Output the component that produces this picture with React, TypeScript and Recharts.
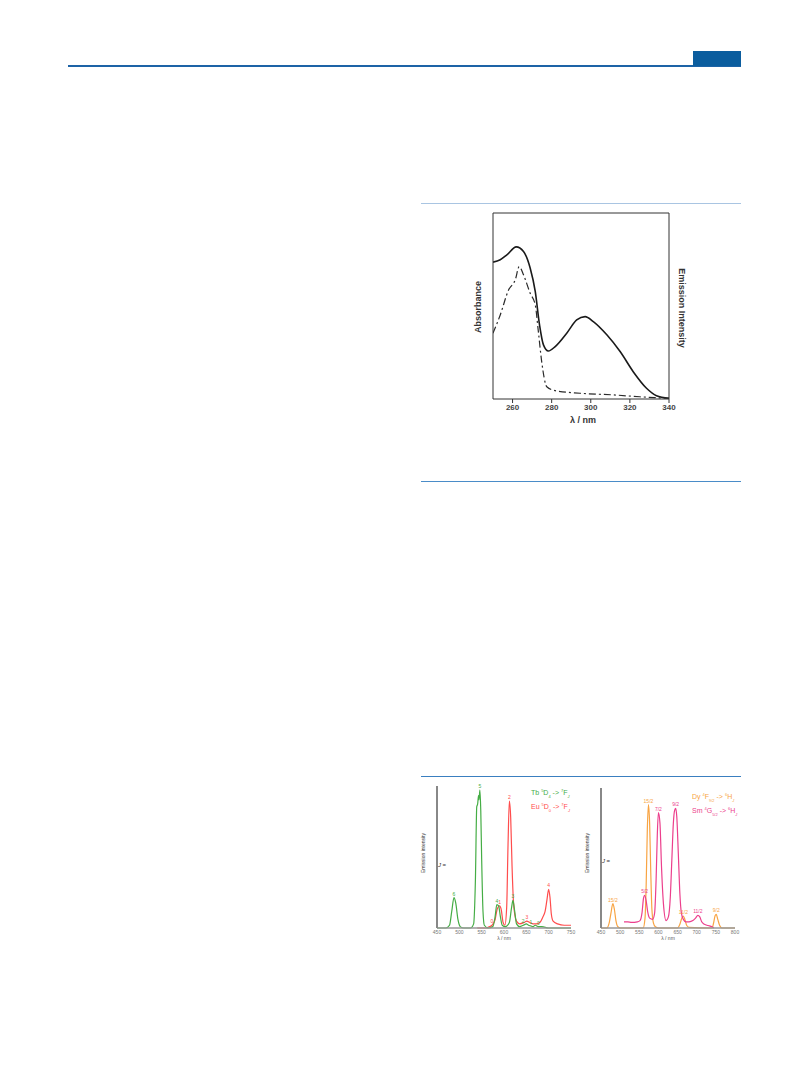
import React from "react";
import { LineChart, Line, XAxis, YAxis, ReferenceLine, LabelList } from "recharts";

// ─── Absorption / emission (top figure) ──────────────────────────────────────
const solidNm = [250, 253.7, 257.1, 261.9, 265.6, 269, 271.6, 273.8, 275.8, 278.3, 281.8, 287.7, 292.8, 297.1, 301.3, 308.2, 315, 321.7, 328.5, 333.6, 340];
const solidVal = [0.736, 0.749, 0.775, 0.818, 0.793, 0.704, 0.578, 0.398, 0.291, 0.258, 0.282, 0.354, 0.425, 0.443, 0.416, 0.345, 0.255, 0.147, 0.058, 0.018, 0.004];
const dashNm = [250, 253.7, 258, 261.4, 263.4, 265.6, 269, 271.6, 273.2, 274.9, 277.5, 281.8, 294.5, 311.5, 325, 335, 340];
const dashVal = [0.354, 0.452, 0.587, 0.641, 0.712, 0.668, 0.569, 0.506, 0.362, 0.201, 0.066, 0.045, 0.031, 0.022, 0.012, 0.006, 0.003];
const topTicks = [260, 280, 300, 320, 340];

// ─── Tb / Eu emission (bottom left) ──────────────────────────────────────────
const tbNm = [450, 470, 478, 483, 488, 492, 497, 502, 510, 525, 532, 536, 539, 541, 543, 544, 546, 548, 550, 553, 556, 565, 575, 580, 584, 588, 592, 596, 603, 612, 617, 620, 624, 628, 635, 643, 650, 655, 660, 665, 670, 677, 685, 700, 750];
const tbVal = [0, 0, 0.02, 0.12, 0.22, 0.18, 0.06, 0.01, 0, 0, 0.03, 0.35, 0.88, 0.9, 0.96, 0.93, 1.0, 0.85, 0.5, 0.12, 0.02, 0, 0.01, 0.08, 0.17, 0.16, 0.08, 0.02, 0.01, 0.04, 0.15, 0.2, 0.12, 0.03, 0.01, 0.02, 0.03, 0.02, 0.015, 0.01, 0.02, 0.01, 0.01, 0, 0];
const tbTags: Record<number, string> = { 488: "6", 546: "5", 584: "4", 620: "3", 643: "2", 660: "1", 677: "0" };
const euNm = [540, 560, 568, 573, 580, 585, 590, 594, 598, 602, 606, 609, 612, 615, 618, 621, 624, 628, 635, 645, 651, 658, 665, 672, 680, 687, 692, 696, 700, 703, 706, 710, 720, 735, 750];
const euVal = [0, 0, 0.01, 0.02, 0.06, 0.14, 0.16, 0.13, 0.04, 0.02, 0.15, 0.6, 0.92, 0.8, 0.45, 0.2, 0.1, 0.05, 0.03, 0.04, 0.05, 0.04, 0.03, 0.03, 0.04, 0.08, 0.12, 0.2, 0.28, 0.22, 0.1, 0.05, 0.03, 0.02, 0.02];
const euTags: Record<number, string> = { 573: "0", 590: "1", 612: "2", 651: "3", 700: "4" };
const leftTicks = [450, 500, 550, 600, 650, 700, 750];

// ─── Dy / Sm emission (bottom right) ─────────────────────────────────────────
const dyNm = [450, 465, 472, 476, 481, 485, 489, 494, 500, 560, 565, 568, 571, 574, 577, 580, 583, 587, 592, 600, 650, 656, 661, 665, 669, 674, 680, 740, 744, 748, 751, 755, 760, 766, 800];
const dyVal = [0, 0, 0.05, 0.12, 0.198, 0.15, 0.06, 0.01, 0, 0, 0.08, 0.35, 0.8, 1.0, 0.85, 0.45, 0.15, 0.04, 0.01, 0, 0, 0.03, 0.08, 0.097, 0.07, 0.02, 0.005, 0, 0.04, 0.1, 0.111, 0.07, 0.02, 0, 0];
const dyTags: Record<number, string> = { 481: "15/2", 574: "15/2", 665: "11/2", 751: "9/2" };
const smNm = [510, 520, 530, 545, 552, 557, 561, 564, 568, 572, 577, 585, 590, 594, 597, 600, 604, 608, 613, 620, 626, 631, 635, 639, 642, 645, 648, 652, 656, 660, 665, 672, 680, 690, 697, 703, 708, 713, 720, 730, 740, 745];
const smVal = [0.05, 0.05, 0.045, 0.05, 0.06, 0.12, 0.24, 0.265, 0.22, 0.13, 0.08, 0.07, 0.12, 0.4, 0.75, 0.935, 0.85, 0.5, 0.2, 0.06, 0.09, 0.25, 0.55, 0.85, 0.95, 0.97, 0.9, 0.6, 0.28, 0.12, 0.07, 0.05, 0.05, 0.06, 0.08, 0.103, 0.09, 0.05, 0.03, 0.02, 0.01, 0];
const smTags: Record<number, string> = { 564: "5/2", 600: "7/2", 645: "9/2", 703: "11/2" };
const rightTicks = [450, 500, 550, 600, 650, 700, 750, 800];

const toData = (xs: number[], ys: number[], tags?: Record<number, string>) =>
  xs.map((x, i) => ({ x, y: ys[i], tag: tags ? tags[x] : undefined }));

const GREEN = "#45ad45";
const RED = "#ff4d4d";
const ORANGE = "#f8a443";
const PINK = "#ec3f8c";

const abs = (left: number, top: number, extra: React.CSSProperties = {}): React.CSSProperties => ({
  position: "absolute",
  left,
  top,
  whiteSpace: "nowrap",
  ...extra,
});

function TopFigure() {
  const solid = toData(solidNm, solidVal);
  const dashed = toData(dashNm, dashVal);
  return (
    <>
      <div style={abs(440, 200)}>
        <LineChart width={260} height={240} margin={{ top: 13, right: 31, bottom: 21, left: 43 }}>
          <XAxis
            type="number"
            dataKey="x"
            domain={[250, 340]}
            ticks={topTicks}
            allowDataOverflow
            height={20}
            tickSize={4}
            tickMargin={1}
            stroke="#333"
            tick={{ fontSize: 8, fontWeight: 700, fill: "#444" }}
          />
          <YAxis type="number" domain={[0, 1]} width={10} tick={false} tickLine={false} stroke="#333" />
          <ReferenceLine y={1} stroke="#333" />
          <ReferenceLine x={340} stroke="#333" />
          <Line data={solid} dataKey="y" type="monotone" stroke="#1a1a1a" strokeWidth={1.6} dot={false} isAnimationActive={false} />
          <Line data={dashed} dataKey="y" type="monotone" stroke="#2a2a2a" strokeWidth={1.2} strokeDasharray="7 3 2 3" dot={false} isAnimationActive={false} />
        </LineChart>
      </div>
      <div style={abs(478, 307, { fontSize: 9, fontWeight: 700, color: "#333", transform: "translate(-50%, -50%) rotate(-90deg)" })}>Absorbance</div>
      <div style={abs(682, 308, { fontSize: 9, fontWeight: 700, color: "#333", transform: "translate(-50%, -50%) rotate(90deg)" })}>Emission Intensity</div>
      <div style={abs(583, 420, { fontSize: 9, fontWeight: 700, color: "#333", transform: "translate(-50%, -50%)" })}>λ / nm</div>
    </>
  );
}

const smallTick = { fontSize: 5, fill: "#777" };

function TbEuFigure() {
  const tb = toData(tbNm, tbVal, tbTags);
  const eu = toData(euNm, euVal, euTags);
  return (
    <>
      <div style={abs(410, 776)}>
        <LineChart width={170} height={170} margin={{ top: 10, right: 9, bottom: 6, left: 17 }}>
          <XAxis type="number" dataKey="x" domain={[450, 750]} ticks={leftTicks} allowDataOverflow height={12} tickSize={0} tickMargin={2} stroke="#999" strokeWidth={1.5} tick={smallTick} />
          <YAxis type="number" domain={[0, 1.03]} width={10} tick={false} tickLine={false} stroke="#888" strokeWidth={2} />
          <Line data={eu} dataKey="y" type="monotone" stroke={RED} strokeWidth={1.2} dot={false} isAnimationActive={false}>
            <LabelList dataKey="tag" position="top" offset={2} fontSize={5} fill={RED} />
          </Line>
          <Line data={tb} dataKey="y" type="monotone" stroke={GREEN} strokeWidth={1.2} dot={false} isAnimationActive={false}>
            <LabelList dataKey="tag" position="top" offset={2} fontSize={5} fill={GREEN} />
          </Line>
        </LineChart>
      </div>
      <div style={abs(423, 853, { fontSize: 5, color: "#333", transform: "translate(-50%, -50%) rotate(-90deg)" })}>Emission intensity</div>
      <div style={abs(504, 938, { fontSize: 5, color: "#555", transform: "translate(-50%, -50%)" })}>λ / nm</div>
      <div style={abs(442, 865, { fontSize: 6, color: "#333", transform: "translate(-50%, -50%)" })}><i>J</i> =</div>
      <div style={abs(531, 788, { fontSize: 7, color: GREEN })}>
        Tb <sup style={{ fontSize: 4 }}>5</sup>D<sub style={{ fontSize: 4 }}>4</sub> -&gt; <sup style={{ fontSize: 4 }}>7</sup>F<sub style={{ fontSize: 4 }}><i>J</i></sub>
      </div>
      <div style={abs(531, 802, { fontSize: 7, color: RED })}>
        Eu <sup style={{ fontSize: 4 }}>5</sup>D<sub style={{ fontSize: 4 }}>0</sub> -&gt; <sup style={{ fontSize: 4 }}>7</sup>F<sub style={{ fontSize: 4 }}><i>J</i></sub>
      </div>
    </>
  );
}

function DySmFigure() {
  const dy = toData(dyNm, dyVal, dyTags);
  const sm = toData(smNm, smVal, smTags);
  return (
    <>
      <div style={abs(580, 776)}>
        <LineChart width={165} height={170} margin={{ top: 12, right: 10, bottom: 6, left: 11 }}>
          <XAxis type="number" dataKey="x" domain={[450, 800]} ticks={rightTicks} allowDataOverflow height={12} tickSize={0} tickMargin={2} stroke="#999" strokeWidth={1.5} tick={smallTick} />
          <YAxis type="number" domain={[0, 1.135]} width={10} tick={false} tickLine={false} stroke="#888" strokeWidth={2} />
          <Line data={dy} dataKey="y" type="monotone" stroke={ORANGE} strokeWidth={1.2} dot={false} isAnimationActive={false}>
            <LabelList dataKey="tag" position="top" offset={2} fontSize={5} fill={ORANGE} />
          </Line>
          <Line data={sm} dataKey="y" type="monotone" stroke={PINK} strokeWidth={1.2} dot={false} isAnimationActive={false}>
            <LabelList dataKey="tag" position="top" offset={2} fontSize={5} fill={PINK} />
          </Line>
        </LineChart>
      </div>
      <div style={abs(587, 853, { fontSize: 5, color: "#333", transform: "translate(-50%, -50%) rotate(-90deg)" })}>Emission intensity</div>
      <div style={abs(668, 938, { fontSize: 5, color: "#555", transform: "translate(-50%, -50%)" })}>λ / nm</div>
      <div style={abs(606, 861, { fontSize: 6, color: "#333", transform: "translate(-50%, -50%)" })}><i>J</i> =</div>
      <div style={abs(692, 792, { fontSize: 7, color: ORANGE, width: 53, overflow: "hidden" })}>
        Dy <sup style={{ fontSize: 4 }}>4</sup>F<sub style={{ fontSize: 4 }}>9/2</sub> -&gt; <sup style={{ fontSize: 4 }}>6</sup>H<sub style={{ fontSize: 4 }}><i>J</i></sub>
      </div>
      <div style={abs(692, 806, { fontSize: 7, color: PINK, width: 53, overflow: "hidden" })}>
        Sm <sup style={{ fontSize: 4 }}>4</sup>G<sub style={{ fontSize: 4 }}>5/2</sub> -&gt; <sup style={{ fontSize: 4 }}>6</sup>H<sub style={{ fontSize: 4 }}><i>J</i></sub>
      </div>
    </>
  );
}

export default function App() {
  return (
    <div style={{ position: "absolute", left: 0, top: 0, width: 809, height: 1067, background: "#fff", fontFamily: "'Liberation Sans', Arial, sans-serif" }}>
      {/* page header */}
      <div style={abs(68, 65, { width: 673, height: 1.5, background: "#1d63a6" })} />
      <div style={abs(693, 51, { width: 48, height: 15, background: "#0b5d9e" })} />
      {/* figure separators */}
      <div style={abs(421, 203, { width: 320, height: 1.2, background: "#a9c5e2" })} />
      <div style={abs(421, 480.5, { width: 320, height: 1.2, background: "#4a8cc8" })} />
      <div style={abs(421, 775.5, { width: 320, height: 1.2, background: "#3a7fc0" })} />
      <TopFigure />
      <TbEuFigure />
      <DySmFigure />
    </div>
  );
}
